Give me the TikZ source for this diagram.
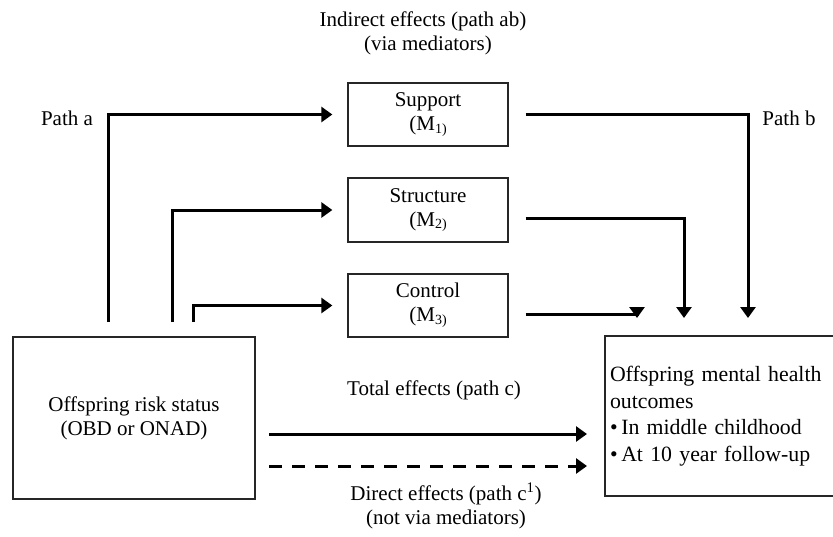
\documentclass[tikz,border=0pt]{standalone}
\usepackage{fontspec}
\setmainfont{Liberation Serif}
\usetikzlibrary{arrows.meta}
\newcommand{\msub}[1]{(M\raisebox{-0.3ex}{\fontsize{14}{14}\selectfont #1)}}
\begin{document}
\begin{tikzpicture}[x=1pt,y=-1pt,
  every node/.style={font=\fontsize{21}{24}\selectfont},
  box/.style={draw=black!85,line width=1.3pt,align=center,inner sep=0pt},
  medbox/.style={box,minimum width=160pt,minimum height=63pt},
  arr/.style={line width=3pt,-{Triangle[length=11pt,width=15pt]}},
  ln/.style={line width=3pt}]
\useasboundingbox (0,0) rectangle (833,536);
\clip (0,0) rectangle (833,536);
% boxes
\node[box,minimum width=242pt,minimum height=162pt] (risk) at (134,418)
  {Offspring risk status\\(OBD or ONAD)};
\node[medbox] (sup) at (428,114.5) {Support\\\msub{1}};
\node[medbox,minimum height=64pt] (str) at (428,210) {Structure\\\msub{2}};
\node[medbox] (con) at (428,305.5) {Control\\\msub{3}};
\node[box,text width=224pt,align=left,inner xsep=5pt,minimum height=160pt,
  font=\fontsize{21.8}{26.5}\selectfont] (out) at (722,416)
  {Offspring mental health\\outcomes\\•\,In middle childhood\\•\,At 10 year follow-up};
% labels
\node[align=center] (ind) at (423,33) {Indirect effects (path ab)\\\hspace*{10pt}(via mediators)};
\node (pa) at (67,118) {Path a};
\node (pb) at (789,118) {Path b};
\node (tot) at (434,390) {Total effects (path c)};
\node[align=center] (dir) at (446,506) {Direct effects (path c\textsuperscript{1})\\(not via mediators)};
% path a connectors
\coordinate (a1) at (108,322);
\coordinate (a2) at (172,322);
\coordinate (a3) at (193,322);
\draw[arr,shorten >=15pt] (a1) |- (sup.west);
\draw[arr,shorten >=15pt] (a2) |- (str.west);
\draw[arr,shorten >=15pt] (a3) |- (con.west);
% path b connectors
\coordinate (b1) at (748,318);
\coordinate (b2) at (684,318);
\coordinate (b3) at (637,318);
\draw[arr,shorten <=17pt] (sup.east) -| (b1);
\draw[arr,shorten <=17pt] ([yshift=-8pt]str.east) -| (b2);
\draw[arr,shorten <=17pt] ([yshift=-8.5pt]con.east) -| (b3);
% total / direct
\coordinate (t1) at (269,434);
\coordinate (t2) at (587,434);
\coordinate (d1) at (269,466);
\coordinate (d2) at (587,466);
\draw[arr] (t1) -- (t2);
\draw[arr,dash pattern=on 13pt off 10pt] (d1) -- (d2);
\end{tikzpicture}
\end{document}
